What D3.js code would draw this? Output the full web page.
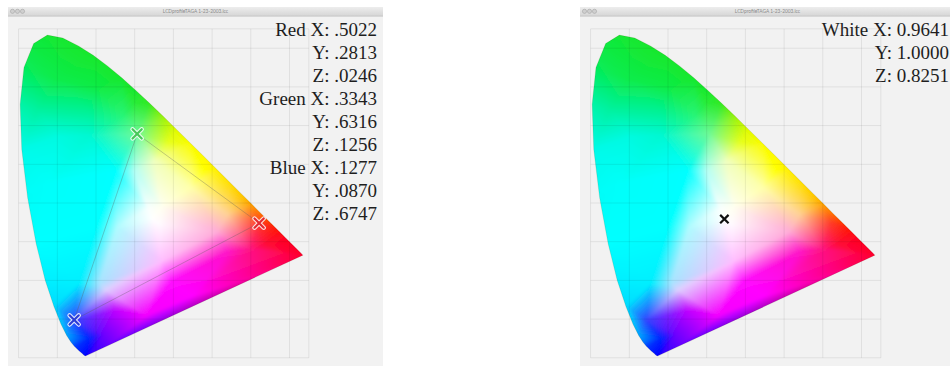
<!DOCTYPE html>
<html>
<head>
<meta charset="utf-8">
<script src="https://cdn.jsdelivr.net/npm/d3@7"></script>
<style>
  body { margin: 0; background: #fff; }
  svg { display: block; }
</style>
</head>
<body>
<svg id="chart" width="950" height="368"></svg>
<script>
// CIE 1931 spectral locus (2 deg observer)
const wavelengths = [380, 400, 420, 430, 440, 450, 460, 465, 470, 475, 480, 485, 490, 495, 500, 505, 510, 515, 520, 525, 530, 535, 540, 545, 550, 555, 560, 565, 570, 575, 580, 585, 590, 595, 600, 605, 610, 615, 620, 630, 640, 650, 660, 680, 700];
const locusX = [0.1741, 0.1733, 0.1714, 0.1689, 0.1644, 0.1566, 0.1440, 0.1355, 0.1241, 0.1096, 0.0913, 0.0687, 0.0454, 0.0235, 0.0082, 0.0039, 0.0139, 0.0389, 0.0743, 0.1142, 0.1547, 0.1929, 0.2296, 0.2658, 0.3016, 0.3373, 0.3731, 0.4087, 0.4441, 0.4788, 0.5125, 0.5448, 0.5752, 0.6029, 0.6270, 0.6482, 0.6658, 0.6801, 0.6915, 0.7079, 0.7190, 0.7260, 0.7300, 0.7334, 0.7347];
const locusY = [0.0050, 0.0048, 0.0051, 0.0069, 0.0109, 0.0177, 0.0297, 0.0399, 0.0578, 0.0868, 0.1327, 0.2007, 0.2950, 0.4127, 0.5384, 0.6548, 0.7502, 0.8120, 0.8338, 0.8262, 0.8059, 0.7816, 0.7543, 0.7243, 0.6923, 0.6589, 0.6245, 0.5896, 0.5547, 0.5202, 0.4866, 0.4544, 0.4242, 0.3965, 0.3725, 0.3514, 0.3340, 0.3197, 0.3083, 0.2920, 0.2809, 0.2740, 0.2700, 0.2666, 0.2653];
// how the diagram paints each wavelength on the edge
const locusColor = ["#0000ff", "#0000ff", "#0000ff", "#0008ff", "#0012ff", "#0020ff", "#003cff", "#0078ff", "#00a8ff", "#00c8ff", "#00dcff", "#00f0ff", "#00ffff", "#00fdf8", "#00fae8", "#00f4a8", "#05ec5a", "#0fea40", "#14e832", "#14e830", "#14e82d", "#14e82d", "#14e82d", "#14e82d", "#16e82d", "#30ea23", "#96f20f", "#e1fa00", "#fafc00", "#fffa00", "#fff000", "#ffe000", "#ffc800", "#ffa000", "#ff6e00", "#ff3c00", "#ff1a08", "#ff0a18", "#ff0520", "#ff0028", "#ff002a", "#ff002d", "#ff002d", "#ff002d", "#ff002d"];

// interior colour anchors [x, y, colour]
const fillAnchors = [
  [0.3457, 0.3585, "#ffffff"], [0.335, 0.385, "#fafffe"], [0.365, 0.345, "#fffaff"], [0.37, 0.39, "#fffff0"],
  // along green-blue edge
  [0.250, 0.483, "#00ffff"], [0.200, 0.338, "#00ffff"], [0.155, 0.194, "#00f0ff"],
  [0.300, 0.483, "#b4fff5"], [0.255, 0.338, "#b0fcff"], [0.210, 0.194, "#a8e4ff"],
  // along red-blue edge
  [0.540, 0.272, "#ff14c8"], [0.397, 0.196, "#ff0aff"], [0.253, 0.121, "#c000ff"],
  [0.512, 0.325, "#ffacd8"], [0.369, 0.250, "#ffbeff"], [0.225, 0.175, "#dcd0ff"],
  // along red-green edge
  [0.576, 0.418, "#ffc800"], [0.482, 0.487, "#ffff00"], [0.387, 0.557, "#e6ff1e"],
  [0.540, 0.370, "#ffd096"], [0.446, 0.439, "#ffffaa"], [0.351, 0.509, "#f0ffbe"],
  // primaries' neighbourhood
  [0.6215, 0.3481, "#ff3c28"], [0.3063, 0.5787, "#6efa96"], [0.1436, 0.0978, "#3246ff"],
  // saturated outer regions
  [0.10, 0.72, "#0fec4b"], [0.20, 0.70, "#0fec46"], [0.30, 0.66, "#28ec37"],
  [0.05, 0.64, "#00f2a0"], [0.18, 0.635, "#00f296"], [0.27, 0.625, "#28f578"],
  [0.08, 0.45, "#00fffa"], [0.10, 0.57, "#00fae1"], [0.18, 0.575, "#00f8d2"],
  [0.18, 0.05, "#0028ff"], [0.22, 0.06, "#6e00ff"], [0.33, 0.11, "#f500ff"], [0.45, 0.16, "#ff00ff"],
  [0.60, 0.28, "#ff1482"], [0.64, 0.29, "#ff0a3c"]
];

// profile tags (XYZ)
const primaryNames = ["Red", "Green", "Blue"];
const primaryXYZ = [[0.5022, 0.2813, 0.0246], [0.3343, 0.6316, 0.1256], [0.1277, 0.0870, 0.6747]];
const primaryColors = ["#e42a30", "#48c85a", "#2c3cd6"];
const whiteName = "White";
const whiteXYZ = [0.9641, 1.0000, 0.8251];

const gridX = [0, 0.1, 0.2, 0.3, 0.4, 0.5, 0.6, 0.7, 0.75];
const gridY = [0, 0.1, 0.2, 0.3, 0.4, 0.5, 0.6, 0.7, 0.8, 0.85];

const size = {
  win: { width: 375, titleTop: 7, titleH: 8.5, bottom: 366 },
  plot: { left: 10.6, top: 21.85, unit: 387 },
  textRight: 369, baseline: 36.3, lineStep: 23
};

const chromaticity = xyz => {
  const s = xyz[0] + xyz[1] + xyz[2];
  return [xyz[0] / s, xyz[1] / s];
};

const xScale = d3.scaleLinear([0, 0.75], [0, 0.75 * size.plot.unit]);
const yScale = d3.scaleLinear([0, 0.85], [0.85 * size.plot.unit, 0]);
const plotW = Math.ceil(xScale(0.75)) + 1;
const plotH = Math.ceil(yScale(0)) + 1;

// ---- rasterise the colour fill: Delaunay mesh of anchors, barycentric blend
const anchors = [];
const centre = [0.33, 0.33];
wavelengths.forEach((w, i) => {
  const x = locusX[i], y = locusY[i];
  anchors.push([x, y, locusColor[i]]);
  anchors.push([x + (x - centre[0]) * 0.08, y + (y - centre[1]) * 0.08, locusColor[i]]); // pad outside the edge
});
fillAnchors.forEach(a => anchors.push(a));

const pts = anchors.map(a => [xScale(a[0]), yScale(a[1])]);
const cols = anchors.map(a => d3.rgb(a[2]));
const delaunay = d3.Delaunay.from(pts);
const tri = delaunay.triangles;

const canvas = document.createElement("canvas");
canvas.width = plotW;
canvas.height = plotH;
const ctx = canvas.getContext("2d");
const img = ctx.createImageData(plotW, plotH);

for (let t = 0; t < tri.length; t += 3) {
  const i = tri[t], j = tri[t + 1], k = tri[t + 2];
  const [ax, ay] = pts[i], [bx, by] = pts[j], [cx, cy] = pts[k];
  const den = (by - cy) * (ax - cx) + (cx - bx) * (ay - cy);
  if (Math.abs(den) < 1e-9) continue;
  const x0 = Math.max(0, Math.floor(Math.min(ax, bx, cx)));
  const x1 = Math.min(plotW - 1, Math.ceil(Math.max(ax, bx, cx)));
  const y0 = Math.max(0, Math.floor(Math.min(ay, by, cy)));
  const y1 = Math.min(plotH - 1, Math.ceil(Math.max(ay, by, cy)));
  for (let py = y0; py <= y1; py++) {
    for (let px = x0; px <= x1; px++) {
      const sx = px + 0.5, sy = py + 0.5;
      const l1 = ((by - cy) * (sx - cx) + (cx - bx) * (sy - cy)) / den;
      const l2 = ((cy - ay) * (sx - cx) + (ax - cx) * (sy - cy)) / den;
      const l3 = 1 - l1 - l2;
      if (l1 < -1e-6 || l2 < -1e-6 || l3 < -1e-6) continue;
      const o = (py * plotW + px) * 4;
      img.data[o] = l1 * cols[i].r + l2 * cols[j].r + l3 * cols[k].r;
      img.data[o + 1] = l1 * cols[i].g + l2 * cols[j].g + l3 * cols[k].g;
      img.data[o + 2] = l1 * cols[i].b + l2 * cols[j].b + l3 * cols[k].b;
      img.data[o + 3] = 255;
    }
  }
}
ctx.putImageData(img, 0, 0);
const fillUrl = canvas.toDataURL();

// ---- svg
const svg = d3.select("#chart");
const defs = svg.append("defs");

const locusLine = d3.line().x(d => xScale(d[0])).y(d => yScale(d[1]));
const locusPts = locusX.map((x, i) => [x, locusY[i]]);

defs.append("clipPath")
  .attr("id", "locusClip")
  .append("path")
  .attr("d", locusLine(locusPts) + "Z");

defs.append("filter")
  .attr("id", "soft")
  .append("feGaussianBlur")
  .attr("stdDeviation", 1.2);

const bar = defs.append("linearGradient")
  .attr("id", "titleGrad")
  .attr("x1", 0).attr("y1", 0).attr("x2", 0).attr("y2", 1);
bar.append("stop").attr("offset", 0).attr("stop-color", "#ededed");
bar.append("stop").attr("offset", 1).attr("stop-color", "#d7d7d7");

const fmtShort = v => d3.format(".4f")(v).replace(/^0/, "");
const fmtLong = d3.format(".4f");

const panels = [
  {
    left: 8,
    lines: primaryNames.flatMap((n, i) => [
      `${n} X: ${fmtShort(primaryXYZ[i][0])}`,
      `Y: ${fmtShort(primaryXYZ[i][1])}`,
      `Z: ${fmtShort(primaryXYZ[i][2])}`
    ]),
    triangle: true
  },
  {
    left: 580,
    lines: [`${whiteName} X: ${fmtLong(whiteXYZ[0])}`, `Y: ${fmtLong(whiteXYZ[1])}`, `Z: ${fmtLong(whiteXYZ[2])}`],
    triangle: false
  }
];

const cross = s => `M${-s},${-s}L${s},${s}M${-s},${s}L${s},${-s}`;

panels.forEach(p => {
  const win = svg.append("g").attr("transform", `translate(${p.left},0)`);

  // window chrome
  win.append("rect")
    .attr("x", 0).attr("y", size.win.titleTop)
    .attr("width", size.win.width).attr("height", size.win.bottom - size.win.titleTop)
    .attr("fill", "#f2f2f2");
  win.append("rect")
    .attr("x", 0).attr("y", size.win.titleTop)
    .attr("width", size.win.width).attr("height", size.win.titleH)
    .attr("fill", "url(#titleGrad)");
  win.append("line")
    .attr("x1", 0).attr("x2", size.win.width)
    .attr("y1", size.win.titleTop + size.win.titleH + 0.5).attr("y2", size.win.titleTop + size.win.titleH + 0.5)
    .attr("stroke", "#bdbdbd");
  win.selectAll("circle.btn")
    .data([4.5, 9.5, 14.5])
    .join("circle")
    .attr("class", "btn")
    .attr("cx", d => d).attr("cy", 11.3).attr("r", 2.1)
    .attr("fill", "#cfcfcf").attr("stroke", "#9a9a9a").attr("stroke-width", 0.5);
  win.append("text")
    .attr("x", size.win.width / 2).attr("y", 13.2)
    .attr("text-anchor", "middle")
    .attr("font-family", "Lato, sans-serif").attr("font-size", 4.8)
    .attr("fill", "#8a8a8a")
    .text("LCDprofileTAGA 1-23-2003.icc");

  const plot = win.append("g")
    .attr("transform", `translate(${size.plot.left},${size.plot.top + size.win.titleTop})`);

  plot.append("g")
    .attr("clip-path", "url(#locusClip)")
    .append("image")
    .attr("href", fillUrl)
    .attr("width", plotW).attr("height", plotH)
    .attr("filter", "url(#soft)");

  plot.append("path")
    .attr("d", locusLine(locusPts) + "Z")
    .attr("fill", "none")
    .attr("stroke", "rgba(60,60,0,0.18)")
    .attr("stroke-width", 0.7);

  // grid shows through the fill
  plot.append("g")
    .selectAll("line")
    .data(gridX)
    .join("line")
    .attr("x1", d => xScale(d)).attr("x2", d => xScale(d))
    .attr("y1", yScale(0)).attr("y2", yScale(0.85))
    .attr("stroke", "rgba(0,0,0,0.075)");
  plot.append("g")
    .selectAll("line")
    .data(gridY)
    .join("line")
    .attr("y1", d => yScale(d)).attr("y2", d => yScale(d))
    .attr("x1", xScale(0)).attr("x2", xScale(0.75))
    .attr("stroke", "rgba(0,0,0,0.075)");

  if (p.triangle) {
    const prim = primaryXYZ.map(chromaticity);
    plot.append("path")
      .attr("d", locusLine(prim) + "Z")
      .attr("fill", "none")
      .attr("stroke", "rgba(90,90,90,0.32)")
      .attr("stroke-width", 1);
    const m = plot.selectAll("g.mark")
      .data(prim)
      .join("g")
      .attr("class", "mark")
      .attr("transform", d => `translate(${xScale(d[0])},${yScale(d[1])})`);
    m.append("path")
      .attr("d", cross(4.6))
      .attr("stroke", "rgba(255,255,255,0.85)")
      .attr("stroke-width", 4.4)
      .attr("stroke-linecap", "round");
    m.append("path")
      .attr("d", cross(4.6))
      .attr("stroke", (d, i) => primaryColors[i])
      .attr("stroke-width", 2.2)
      .attr("stroke-linecap", "round");
  } else {
    const w = chromaticity(whiteXYZ);
    plot.append("path")
      .attr("transform", `translate(${xScale(w[0])},${yScale(w[1])})`)
      .attr("d", cross(4.2))
      .attr("stroke", "#111")
      .attr("stroke-width", 2.2);
  }

  win.append("g")
    .selectAll("text")
    .data(p.lines)
    .join("text")
    .attr("x", size.textRight)
    .attr("y", (d, i) => size.baseline + i * size.lineStep)
    .attr("text-anchor", "end")
    .attr("font-family", "'Liberation Serif', serif")
    .attr("font-size", 19)
    .attr("fill", "#1e1e1e")
    .text(d => d);
});
</script>
</body>
</html>
